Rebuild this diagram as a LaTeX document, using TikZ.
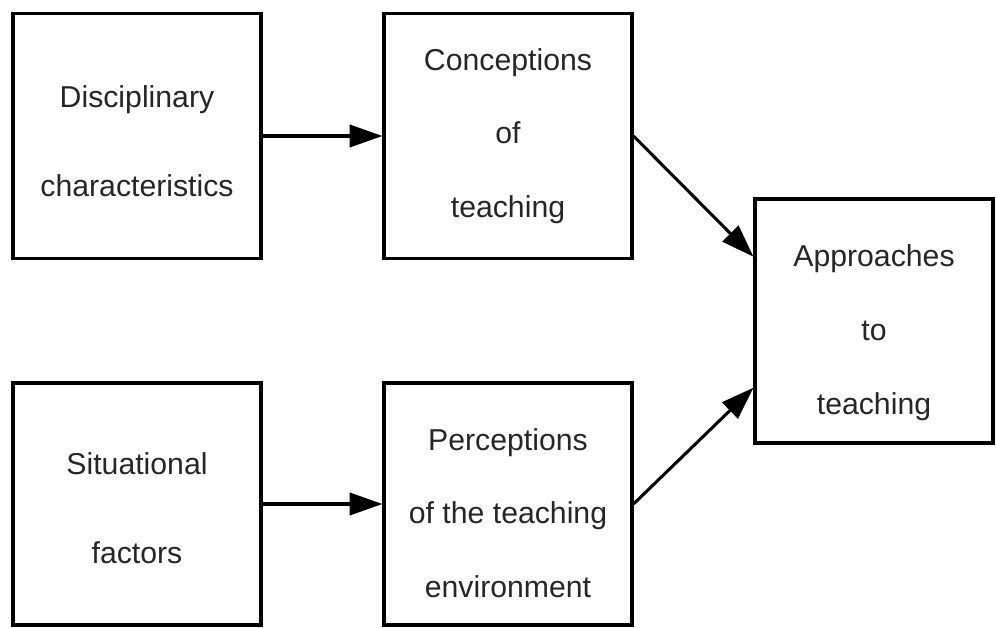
\documentclass[tikz,border=0pt]{standalone}
\usepackage{fontspec}
\setmainfont{Liberation Sans}
\usetikzlibrary{positioning, arrows.meta, calc}

\begin{document}
\begin{tikzpicture}[x=0.03cm, y=-0.03cm,
          box/.style={rectangle, draw, line width=2.6pt, minimum width=7.44cm,
                      minimum height=7.35cm, align=center, inner sep=0pt,
                      text=black!85},
          twoline/.style={font=\fontsize{25.8}{76}\selectfont},
          threeline/.style={font=\fontsize{25.8}{63}\selectfont},
          arr/.style={-{Triangle[length=28pt, width=19pt]}, line width=2.6pt}
        ]
        \useasboundingbox (0,0) rectangle (996,628);

        % left column
        \node[box, twoline] (disc) at (137,136)
              {\rule{0pt}{0.95cm}Disciplinary\\characteristics};
        \node[box, twoline, minimum height=7.26cm] (sit) at (137,504)
              {\rule{0pt}{0.9cm}Situational\\factors};
        % middle column
        \node[box, threeline] (conc) at (508,136)
              {Conceptions\\of\\teaching};
        \node[box, threeline, minimum height=7.26cm] (perc) at (508,504)
              {\rule{0pt}{1.2cm}Perceptions\\of the teaching\\environment};
        % right
        \node[box, threeline, minimum width=7.14cm, minimum height=7.32cm] (appr) at (874,321)
              {\rule{0pt}{1.35cm}Approaches\\to\\teaching};

        \draw[arr] (disc) -- (conc);
        \draw[arr] (sit) -- (perc);
        \draw[arr] (conc.east) -- ($(appr.north west)!0.24!(appr.south west)$);
        \draw[arr] (perc.east) -- ($(appr.north west)!0.77!(appr.south west)$);
      \end{tikzpicture}
\end{document}
